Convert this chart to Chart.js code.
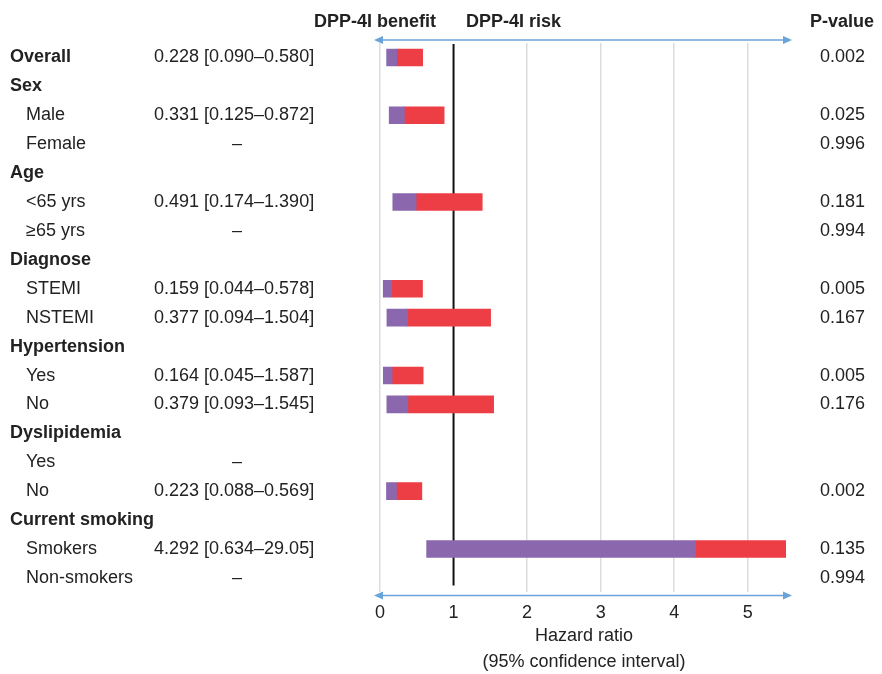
<!DOCTYPE html>
<html>
<head>
<meta charset="utf-8">
<script src="https://cdn.jsdelivr.net/npm/chart.js@4.4.1/dist/chart.umd.min.js"></script>
<style>
  html, body { margin: 0; padding: 0; background: #fff; }
  #wrap { width: 882px; height: 674px; }
</style>
</head>
<body>
<div id="wrap"><canvas id="forest"></canvas></div>
<script>
// rows of the forest plot, top to bottom
const rowLabels = ['Overall', 'Sex', 'Male', 'Female', 'Age', '<65 yrs', '≥65 yrs', 'Diagnose', 'STEMI', 'NSTEMI',
  'Hypertension', 'Yes', 'No', 'Dyslipidemia', 'Yes', 'No', 'Current smoking', 'Smokers', 'Non-smokers'];
const headerRows = [true, true, false, false, true, false, false, true, false, false,
  true, false, false, true, false, false, true, false, false];
const hazardRatio = [0.228, null, 0.331, null, null, 0.491, null, null, 0.159, 0.377,
  null, 0.164, 0.379, null, null, 0.223, null, 4.292, null];
const ciLower = [0.090, null, 0.125, null, null, 0.174, null, null, 0.044, 0.094,
  null, 0.045, 0.093, null, null, 0.088, null, 0.634, null];
// bar ends as drawn in the picture
const ciUpper = [0.580, null, 0.872, null, null, 1.390, null, null, 0.578, 1.504,
  null, 0.587, 1.545, null, null, 0.569, null, 29.05, null];
const hrText = ['0.228 [0.090–0.580]', '', '0.331 [0.125–0.872]', '–', '', '0.491 [0.174–1.390]', '–', '', '0.159 [0.044–0.578]', '0.377 [0.094–1.504]',
  '', '0.164 [0.045–1.587]', '0.379 [0.093–1.545]', '', '–', '0.223 [0.088–0.569]', '', '4.292 [0.634–29.05]', '–'];
const pValues = ['0.002', '', '0.025', '0.996', '', '0.181', '0.994', '', '0.005', '0.167',
  '', '0.005', '0.176', '', '', '0.002', '', '0.135', '0.994'];
const xTicks = [0, 1, 2, 3, 4, 5];
const xMax = 5.52;

const FONT = '"Liberation Sans", Arial, Helvetica, sans-serif';
const arrowBlue = '#6aa3d8';

const lowerBars = hazardRatio.map((h, i) => h === null ? null : [ciLower[i], h]);
const upperBars = hazardRatio.map((h, i) => h === null ? null : [h, Math.min(ciUpper[i], xMax)]);

function arrowLine(ctx, x1, x2, y) {
  ctx.strokeStyle = arrowBlue;
  ctx.fillStyle = arrowBlue;
  ctx.lineWidth = 1.5;
  ctx.beginPath();
  ctx.moveTo(x1 + 4, y);
  ctx.lineTo(x2 - 4, y);
  ctx.stroke();
  ctx.beginPath();
  ctx.moveTo(x1, y); ctx.lineTo(x1 + 9, y - 4); ctx.lineTo(x1 + 9, y + 4); ctx.closePath();
  ctx.fill();
  ctx.beginPath();
  ctx.moveTo(x2, y); ctx.lineTo(x2 - 9, y - 4); ctx.lineTo(x2 - 9, y + 4); ctx.closePath();
  ctx.fill();
}

const forestText = {
  id: 'forestText',
  beforeDatasetsDraw(chart) {
    const { ctx, chartArea: { top, bottom }, scales: { x } } = chart;
    // reference line at HR = 1
    ctx.save();
    ctx.strokeStyle = '#111';
    ctx.lineWidth = 2;
    ctx.beginPath();
    ctx.moveTo(x.getPixelForValue(1), top + 1);
    ctx.lineTo(x.getPixelForValue(1), bottom - 7);
    ctx.stroke();
    ctx.restore();
  },
  afterDraw(chart) {
    const { ctx, chartArea: { left, right, top, bottom }, scales: { x, y } } = chart;
    ctx.save();
    ctx.textBaseline = 'middle';
    ctx.fillStyle = '#222';

    rowLabels.forEach((lab, i) => {
      const py = y.getPixelForValue(i);
      ctx.textAlign = 'left';
      ctx.font = (headerRows[i] ? 'bold ' : '') + '18px ' + FONT;
      ctx.fillText(lab, headerRows[i] ? 10 : 26, py);
      ctx.font = '18px ' + FONT;
      if (hrText[i] === '–') {
        ctx.textAlign = 'center';
        ctx.fillText('–', 237, py);
      } else if (hrText[i]) {
        ctx.fillText(hrText[i], 154, py);
      }
      ctx.textAlign = 'left';
      if (pValues[i]) ctx.fillText(pValues[i], 820, py);
    });

    // column headers
    ctx.font = 'bold 18px ' + FONT;
    ctx.textAlign = 'right';
    ctx.fillText('DPP-4I benefit', 436, 22);
    ctx.textAlign = 'left';
    ctx.fillText('DPP-4I risk', 466, 22);
    ctx.fillText('P-value', 810, 22);

    // axis caption
    ctx.font = '18px ' + FONT;
    ctx.textAlign = 'center';
    ctx.fillText('Hazard ratio', 584, 636);
    ctx.fillText('(95% confidence interval)', 584, 662);

    // direction arrows
    arrowLine(ctx, left - 6, right + 6, top - 3);
    arrowLine(ctx, left - 6, right + 6, bottom + 3);
    ctx.restore();
  }
};

new Chart(document.getElementById('forest'), {
  type: 'bar',
  data: {
    labels: rowLabels,
    datasets: [
      {
        label: 'Lower CI to HR',
        data: lowerBars,
        backgroundColor: '#8b67ae',
        borderWidth: 0,
        barThickness: 17,
        grouped: false,
      },
      {
        label: 'HR to upper CI',
        data: upperBars,
        backgroundColor: '#ee3e45',
        borderWidth: 0,
        barThickness: 17,
        grouped: false,
      }
    ]
  },
  options: {
    indexAxis: 'y',
    responsive: true,
    maintainAspectRatio: false,
    animation: false,
    layout: { padding: { left: 380, right: 96, top: 43, bottom: 40 } },
    plugins: {
      legend: { display: false },
      tooltip: { enabled: false },
    },
    scales: {
      y: {
        type: 'category',
        display: false,
        grid: { display: false },
      },
      x: {
        type: 'linear',
        min: 0,
        max: xMax,
        afterBuildTicks: (scale) => {
          scale.ticks = xTicks.map(v => ({ value: v }));
        },
        border: { display: false },
        grid: {
          drawTicks: false,
          lineWidth: 1.5,
          color: (c) => c.tick && c.tick.value === 1 ? 'rgba(0,0,0,0)' : '#dcdcdc',
        },
        ticks: {
          padding: 10,
          color: '#222',
          font: { family: FONT, size: 18 },
        }
      }
    }
  },
  plugins: [forestText],
});
</script>
</body>
</html>
